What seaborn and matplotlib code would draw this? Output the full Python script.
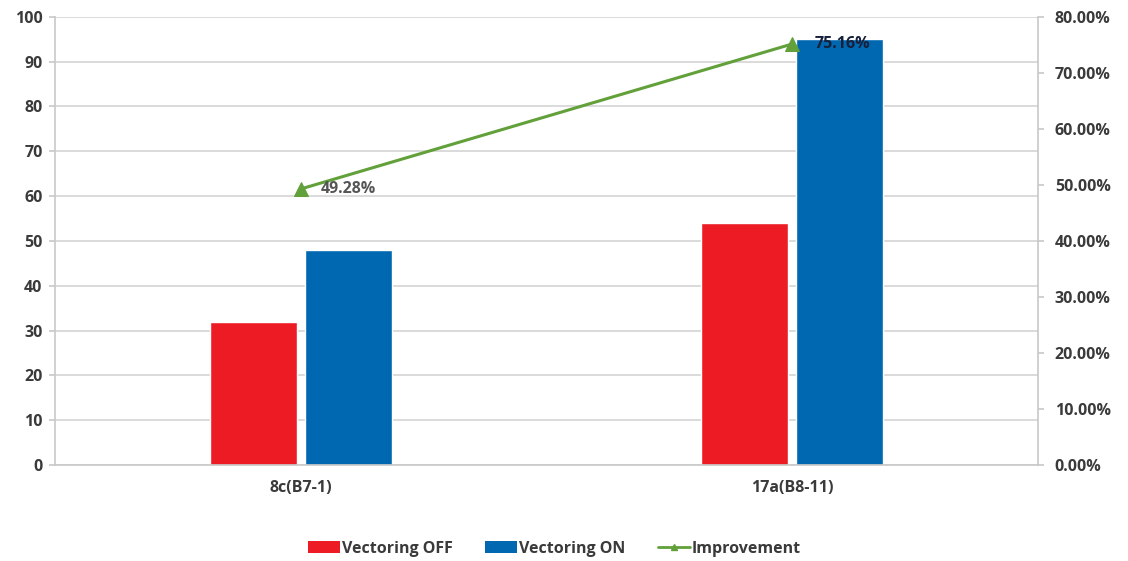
import matplotlib
matplotlib.use("Agg")
import matplotlib.pyplot as plt
import matplotlib.ticker as mticker
from matplotlib.patches import Patch
from matplotlib.lines import Line2D
import seaborn as sns
import pandas as pd

# Data
categories = ["8c(B7-1)", "17a(B8-11)"]
vectoring_off = [32, 54]
vectoring_on = [48, 95]
improvement = [0.4928, 0.7516]
improvement_labels = ["49.28%", "75.16%"]
series_names = ["Vectoring OFF", "Vectoring ON"]

RED = "#ED1C24"
BLUE = "#0067B1"
GREEN = "#62A03A"
TEXT = "#3a3a3a"
AXIS = "#c8c8c8"
FS = 11.5

sns.set_theme(style="white")
plt.rcParams["font.family"] = ["Open Sans", "DejaVu Sans"]

df = pd.DataFrame({
    "category": categories * 2,
    "series": [series_names[0]] * 2 + [series_names[1]] * 2,
    "value": vectoring_off + vectoring_on,
})

fig = plt.figure(figsize=(11.28, 5.61), dpi=100)
ax = fig.add_axes([0.0488, 0.171, 0.8715, 0.799])

sns.barplot(data=df, x="category", y="value", hue="series",
            palette=[RED, BLUE], width=0.387, gap=0.084,
            saturation=1, ax=ax, legend=False)

ax.set_xlim(-0.5, 1.5)
ax.set_ylim(0, 100)
ax.set_yticks(range(0, 101, 10))
ax.yaxis.grid(True, color="#d4d4d4", linewidth=1.2)
ax.set_axisbelow(True)
ax.set_xlabel("")
ax.set_ylabel("")

for side in ["left", "bottom"]:
    ax.spines[side].set_color(AXIS)
    ax.spines[side].set_linewidth(1.2)
ax.spines["top"].set_visible(False)
ax.spines["right"].set_visible(False)

ax.tick_params(axis="y", which="major", length=4, color=AXIS, width=1.2,
               labelsize=FS, labelcolor=TEXT, pad=5, left=True)
ax.tick_params(axis="x", length=0, labelsize=FS, labelcolor=TEXT, pad=11)
for lab in ax.get_xticklabels() + ax.get_yticklabels():
    lab.set_fontweight("bold")

# Secondary axis for the improvement line
ax2 = ax.twinx()
ax2.set_ylim(0, 0.8)
ax2.set_yticks([i / 10 for i in range(0, 9)])
ax2.yaxis.set_major_formatter(mticker.FuncFormatter(lambda v, p: f"{v * 100:.2f}%"))
for side in ["left", "top", "bottom"]:
    ax2.spines[side].set_visible(False)
ax2.spines["right"].set_color(AXIS)
ax2.spines["right"].set_linewidth(1.2)
ax2.tick_params(axis="y", length=4, color=AXIS, width=1.2, labelsize=FS,
                labelcolor=TEXT, pad=8, right=True)
for lab in ax2.get_yticklabels():
    lab.set_fontweight("bold")

sns.lineplot(x=[0, 1], y=improvement, ax=ax2, color=GREEN, linewidth=2.2,
             marker="^", markersize=10, markeredgecolor=GREEN, legend=False)
ax2.set_xlim(-0.5, 1.5)

label_colors = ["#555555", "#16203a"]
label_offsets = [14, 16]
for i, (v, t) in enumerate(zip(improvement, improvement_labels)):
    ax2.annotate(t, (i, v), xytext=(label_offsets[i], 0), textcoords="offset points",
                 ha="left", va="center", fontsize=FS, color=label_colors[i],
                 fontweight="bold")

handles = [
    Patch(facecolor=RED, edgecolor="none"),
    Patch(facecolor=BLUE, edgecolor="none"),
    Line2D([0], [0], color=GREEN, linewidth=2, marker="^", markersize=5),
]
leg = fig.legend(handles, ["Vectoring OFF", "Vectoring ON", "Improvement"],
                 loc="center", bbox_to_anchor=(0.4916, 0.022), ncol=3,
                 frameon=False, fontsize=FS, handlelength=2.0,
                 handleheight=0.7, handletextpad=0.15, columnspacing=2.0)
for t in leg.get_texts():
    t.set_fontweight("bold")
    t.set_color(TEXT)

fig.savefig("out.png", dpi=100)
